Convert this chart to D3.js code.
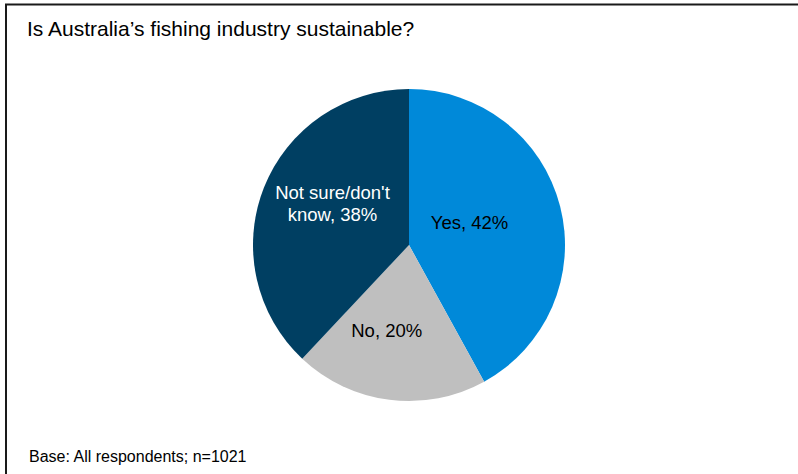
<!DOCTYPE html>
<html>
<head>
<meta charset="utf-8">
<script src="https://cdn.jsdelivr.net/npm/d3@7"></script>
<style>
  html, body { margin: 0; padding: 0; background: #fff; }
  svg { display: block; font-family: Arial, "Liberation Sans", Helvetica, sans-serif; }
</style>
</head>
<body>
<svg id="chart" width="798" height="474"></svg>
<script>
// Survey responses
const categories = ["Yes", "No", "Not sure/don't know"];
const values = [42, 20, 38];
const labelLines = [["Yes, 42%"], ["No, 20%"], ["Not sure/don't", "know, 38%"]];
const title = "Is Australia\u2019s fishing industry sustainable?";
const footnote = "Base: All respondents; n=1021";

const colors = { "Yes": "#0089d9", "No": "#bfbfbf", "Not sure/don't know": "#003f62" };
const textColors = { "Yes": "#000", "No": "#000", "Not sure/don't know": "#fff" };
// fine placement of labels relative to slice centroid
const nudge = { "Yes": [-15, -3.2], "No": [-12.5, 7.7], "Not sure/don't know": [-4, -13] };

const svg = d3.select("#chart");
const W = 798, H = 474;

// frame: top and left rules
svg.append("path")
  .attr("d", `M6,${H} L6,4.5 L${W},4.5`)
  .attr("fill", "none")
  .attr("stroke", "#1a1a1a")
  .attr("stroke-width", 2);

svg.append("text")
  .attr("x", 27).attr("y", 36)
  .attr("font-size", 21)
  .attr("fill", "#000")
  .text(title);

svg.append("text")
  .attr("x", 29).attr("y", 461.5)
  .attr("font-size", 16)
  .attr("fill", "#000")
  .text(footnote);

const cx = 409, cy = 245, R = 156;
const data = categories.map((c, i) => ({ cat: c, value: values[i], lines: labelLines[i] }));

const pie = d3.pie().sort(null).value(d => d.value);
const arc = d3.arc().innerRadius(0).outerRadius(R);
const arcs = pie(data);

const g = svg.append("g").attr("transform", `translate(${cx},${cy})`);

g.selectAll("path.slice")
  .data(arcs)
  .join("path")
  .attr("class", "slice")
  .attr("d", arc)
  .attr("fill", d => colors[d.data.cat]);

const fs = 18.5, lh = 21.7, capH = fs * 0.716;
g.selectAll("text.lbl")
  .data(arcs)
  .join("text")
  .attr("class", "lbl")
  .attr("font-size", fs)
  .attr("text-anchor", "middle")
  .attr("fill", d => textColors[d.data.cat])
  .each(function (d) {
    const [x0, y0] = arc.centroid(d);
    const [nx, ny] = nudge[d.data.cat];
    const x = x0 + nx, yc = y0 + ny;
    const n = d.data.lines.length;
    const yFirst = yc - (n - 1) * lh / 2 + capH / 2;
    d3.select(this).selectAll("tspan")
      .data(d.data.lines)
      .join("tspan")
      .attr("x", x)
      .attr("y", (t, i) => yFirst + i * lh)
      .text(t => t);
  });
</script>
</body>
</html>
